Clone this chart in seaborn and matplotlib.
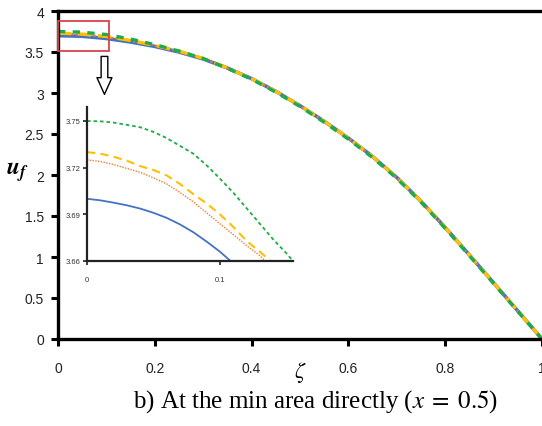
import matplotlib
matplotlib.use("Agg")
import matplotlib.pyplot as plt
import matplotlib.patches as mpatches
import seaborn as sns

sns.set_theme(style="ticks")
plt.rcParams["mathtext.fontset"] = "stix"
plt.rcParams["font.family"] = ["Liberation Sans Narrow", "Liberation Sans", "DejaVu Sans"]

# main curves
zeta = [0, .05, .1, .15, .2, .25, .3, .35, .4, .45, .5, .55, .6, .65, .7, .75, .8, .85, .9, .95, 1]
u_blue = [3.700, 3.692, 3.665, 3.622, 3.568, 3.500, 3.415, 3.305, 3.175, 3.020, 2.845, 2.655,
          2.450, 2.225, 1.970, 1.680, 1.360, 1.025, 0.685, 0.342, 0.0]
u_orange = [3.725, 3.713, 3.684, 3.636, 3.578, 3.508, 3.420, 3.305, 3.175, 3.020, 2.845, 2.655,
            2.450, 2.225, 1.970, 1.680, 1.360, 1.025, 0.685, 0.342, 0.0]
u_yellow = [3.730, 3.718, 3.690, 3.641, 3.581, 3.511, 3.422, 3.305, 3.175, 3.020, 2.845, 2.655,
            2.450, 2.225, 1.970, 1.680, 1.360, 1.025, 0.685, 0.342, 0.0]
u_green = [3.750, 3.742, 3.713, 3.658, 3.590, 3.512, 3.420, 3.300, 3.168, 3.010, 2.835, 2.643,
           2.437, 2.212, 1.958, 1.668, 1.350, 1.015, 0.677, 0.337, 0.0]

# zoomed inset
z_blue_in = [0, .01, .02, .03, .04, .05, .06, .07, .08, .09, .10, .108]
u_blue_in = [3.700, 3.699, 3.6975, 3.6958, 3.6937, 3.691, 3.6877, 3.6835, 3.6785, 3.6725, 3.666, 3.660]
z_orange_in = [0, .01, .02, .03, .04, .05, .06, .07, .08, .09, .10, .11, .12, .13, .134]
u_orange_in = [3.725, 3.724, 3.722, 3.7195, 3.717, 3.7135, 3.7095, 3.704, 3.698, 3.691, 3.684,
               3.677, 3.670, 3.6635, 3.660]
z_yellow_in = [0, .01, .02, .03, .04, .05, .06, .07, .08, .09, .10, .11, .12, .13, .138]
u_yellow_in = [3.730, 3.729, 3.727, 3.7245, 3.721, 3.7185, 3.715, 3.7095, 3.703, 3.697, 3.690,
               3.682, 3.673, 3.666, 3.660]
z_green_in = [0, .01, .02, .03, .04, .05, .06, .07, .08, .09, .10, .11, .12, .13, .14, .15, .155]
u_green_in = [3.750, 3.7498, 3.749, 3.7475, 3.746, 3.743, 3.739, 3.734, 3.729, 3.7215, 3.713,
              3.704, 3.694, 3.684, 3.674, 3.665, 3.660]

main_ticks_x = [0, 0.2, 0.4, 0.6, 0.8, 1]
main_ticks_y = [0, 0.5, 1, 1.5, 2, 2.5, 3, 3.5, 4]
inset_ticks_y = [3.66, 3.69, 3.72, 3.75]
inset_ticks_x = [0, 0.1]

# zoom box
box_x, box_y, box_w, box_h = 0.0, 3.51, 0.105, 0.37

c_blue, c_orange, c_yellow, c_green = "#4472C4", "#ED7D31", "#FFC000", "#1FAA4C"

fig = plt.figure(figsize=(5.42, 4.27), dpi=100)
ax = fig.add_axes([58/542, 87/427, 484/542, 328/427])

sns.lineplot(x=zeta, y=u_blue, ax=ax, color=c_blue, linewidth=2.6)
sns.lineplot(x=zeta, y=u_orange, ax=ax, color=c_orange, linewidth=1.6, linestyle=(0, (1, 1)))
sns.lineplot(x=zeta, y=u_yellow, ax=ax, color=c_yellow, linewidth=2.4, linestyle=(0, (4, 2)))
sns.lineplot(x=zeta, y=u_green, ax=ax, color=c_green, linewidth=2.4, linestyle=(0, (2.2, 2.2)))

ax.set_xlim(0, 1)
ax.set_ylim(0, 4)
ax.set_xticks(main_ticks_x)
ax.set_xticklabels(["0", "0.2", "0.4", "0.6", "0.8", "1"])
ax.set_yticks(main_ticks_y)
ax.set_yticklabels(["0", "0.5", "1", "1.5", "2", "2.5", "3", "3.5", "4"])
ax.tick_params(axis="both", direction="out", length=5, width=2.2, color="black",
               labelsize=10, labelcolor="#222222", pad=5)
ax.tick_params(axis="x", pad=11)
for s in ["left", "bottom", "top"]:
    ax.spines[s].set_linewidth(2.4)
    ax.spines[s].set_color("black")
ax.spines["right"].set_visible(False)
ax.set_xlabel("")
ax.set_ylabel("")

ax.add_patch(mpatches.Rectangle((box_x, box_y), box_w, box_h, fill=False,
                                edgecolor="#D9434B", linewidth=1.3, clip_on=False, zorder=5))
ax.annotate("", xy=(0.096, 2.95), xytext=(0.096, 3.48),
            arrowprops=dict(arrowstyle="simple,head_length=1.0,head_width=0.9,tail_width=0.4",
                            fc="white", ec="black", lw=1.0))

fig.text(17/542, 1 - 172/427, r"$\mathbfit{u}_{\mathbfit{f}}$", fontsize=17,
         ha="center", va="center", color="black")
fig.text(300/542, 1 - 373/427, r"$\zeta$", fontsize=16, ha="center", va="center", color="black")
fig.text(316/542, 1 - 402/427, r"b) At the min area directly ($x\;=\;0.5$)", fontsize=18,
         family="Liberation Serif", ha="center", va="center", color="black")

# inset
axi = fig.add_axes([87/542, (427-262)/427, 206/542, 154/427])
sns.lineplot(x=z_blue_in, y=u_blue_in, ax=axi, color=c_blue, linewidth=1.3)
sns.lineplot(x=z_orange_in, y=u_orange_in, ax=axi, color=c_orange, linewidth=1.0, linestyle=(0, (1, 1)))
sns.lineplot(x=z_yellow_in, y=u_yellow_in, ax=axi, color=c_yellow, linewidth=1.5, linestyle=(0, (4, 2.5)))
sns.lineplot(x=z_green_in, y=u_green_in, ax=axi, color=c_green, linewidth=1.3, linestyle=(0, (2, 1.6)))
axi.set_xlim(0, 0.155)
axi.set_ylim(3.66, 3.759)
axi.set_xticks(inset_ticks_x)
axi.set_xticklabels(["0", "0.1"])
axi.set_yticks(inset_ticks_y)
axi.set_yticklabels(["3.66", "3.69", "3.72", "3.75"])
axi.tick_params(axis="both", direction="out", length=3, width=1.2, color="#222222",
                labelsize=5.5, labelcolor="#333333", pad=2)
axi.tick_params(axis="x", pad=8)
for s in ["left", "bottom"]:
    axi.spines[s].set_linewidth(1.6)
    axi.spines[s].set_color("#222222")
for s in ["right", "top"]:
    axi.spines[s].set_visible(False)
axi.patch.set_alpha(0)
axi.set_xlabel("")
axi.set_ylabel("")

fig.savefig("out.png", dpi=100)
